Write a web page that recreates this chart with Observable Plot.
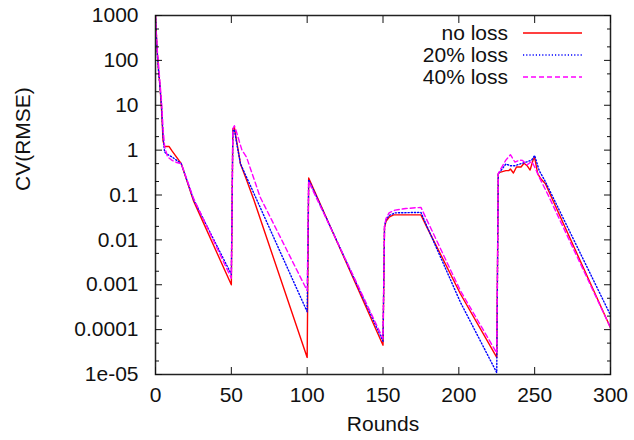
<!DOCTYPE html>
<html><head><meta charset="utf-8">
<script src="https://cdn.jsdelivr.net/npm/d3@7"></script>
<script src="https://cdn.jsdelivr.net/npm/@observablehq/plot@0.6"></script>
<style>body{margin:0;background:#fff}</style>
</head><body><div id="chart"></div>
<script>
const seriesNames = ["no loss", "20% loss", "40% loss"];
const seriesColors = ["#ff0000", "#0000ff", "#ff00ff"];
const seriesDash = [null, "1.2,2", "5,3"];

// [round, CV(RMSE)]
const noLoss = [[0,1000],[1,180],[2,60],[3,25],[4,8],[5,1.6],[6,1.2],[9,1.2],[11,0.95],[17,0.5],[25,0.075],[50,0.001],
  [51,3.0],[52,3.2],[53,2],[56,0.5],[60,0.22],[65,0.075],[100,2.4e-5],
  [101,0.24],[150,4.5e-5],
  [151,0.019],[152,0.026],[154,0.032],[157,0.036],[175,0.036],[179,0.019],[201,0.00063],[225,2.4e-5],
  [226,0.3],[227,0.32],[231,0.35],[233,0.35],[234,0.38],[236,0.31],[238,0.42],[241,0.42],[243,0.51],[245,0.45],[247,0.36],[249,0.61],[250,0.68],
  [252,0.3],[254,0.23],[257,0.18],[300,1.1e-4]];
const loss20 = [[0,1000],[1,170],[2,60],[3,25],[4,9],[5,2],[6,0.9],[8,0.8],[11,0.7],[17,0.5],[25,0.08],[50,0.0017],
  [51,2.6],[52,2.9],[53,1.8],[56,0.5],[60,0.25],[63,0.15],[100,0.00025],
  [101,0.22],[150,5.5e-5],
  [151,0.02],[152,0.028],[154,0.035],[158,0.04],[175,0.041],[179,0.02],[201,0.00041],[225,1.1e-5],
  [226,0.3],[228,0.36],[231,0.49],[234,0.45],[237,0.45],[241,0.5],[245,0.55],[248,0.6],[250,0.76],
  [253,0.35],[257,0.2],[300,2.1e-4]];
const loss40 = [[0,1000],[1,200],[2,80],[3,30],[4,12],[5,3],[6,1.2],[8,0.7],[11,0.59],[14,0.53],[17,0.5],[25,0.085],[50,0.0014],
  [51,3.0],[52,3.5],[53,2.8],[57,1.0],[60,0.7],[69,0.09],[100,0.00074],
  [101,0.2],[150,6.3e-5],
  [151,0.02],[152,0.03],[154,0.04],[158,0.046],[165,0.05],[175,0.053],[201,0.00074],[225,3e-5],
  [226,0.3],[228,0.4],[231,0.6],[234,0.79],[237,0.54],[240,0.6],[242,0.59],[245,0.47],[248,0.56],[250,0.42],
  [253,0.25],[259,0.098],[300,1.1e-4]];

const xTicks = [0, 50, 100, 150, 200, 250, 300];
const yTicks = [1e-5, 1e-4, 1e-3, 1e-2, 1e-1, 1, 10, 100, 1000];
const yTickLabels = ["1e-05", "0.0001", "0.001", "0.01", "0.1", "1", "10", "100", "1000"];
const yMinorTicks = yTicks.slice(0, -1).flatMap(t => [2 * t, 5 * t]);

const allSeries = [noLoss, loss20, loss40];
const rows = allSeries.flatMap((s, i) => s.map(([round, value]) => ({series: seriesNames[i], round, value})));

const font = "'Liberation Sans', Arial, Helvetica, sans-serif";
const blank = () => "";

const chart = Plot.plot({
  width: 634, height: 440,
  marginLeft: 155, marginRight: 24, marginTop: 15, marginBottom: 66,
  style: {fontFamily: font, fontSize: "21px", background: "white", color: "#111"},
  x: {domain: [0, 300]},
  y: {type: "log", domain: [1e-5, 1000]},
  marks: [
    ...seriesNames.map((name, i) => Plot.line(rows.filter(d => d.series === name), {
      x: "round", y: "value", stroke: seriesColors[i], strokeWidth: 1.4,
      strokeDasharray: seriesDash[i], clip: true
    })),
    Plot.frame({stroke: "#222", strokeWidth: 1.5}),
    Plot.axisX({ticks: xTicks, tickSize: 0, tickPadding: 13, label: null, fontSize: 21}),
    Plot.axisX({ticks: xTicks, tickSize: -7, tickFormat: blank, label: null, anchor: "bottom"}),
    Plot.axisX({ticks: xTicks, tickSize: -7, tickFormat: blank, label: null, anchor: "top"}),
    Plot.axisY({ticks: yTicks, tickSize: 0, tickPadding: 17, label: null, fontSize: 21,
      tickFormat: d => yTickLabels[yTicks.findIndex(t => Math.abs(Math.log10(t) - Math.log10(d)) < 1e-6)]}),
    Plot.axisY({ticks: yTicks, tickSize: -7, tickFormat: blank, label: null, anchor: "left"}),
    Plot.axisY({ticks: yTicks, tickSize: -7, tickFormat: blank, label: null, anchor: "right"}),
    Plot.axisY({ticks: yMinorTicks, tickSize: -4, tickFormat: blank, label: null, anchor: "left"}),
    Plot.axisY({ticks: yMinorTicks, tickSize: -4, tickFormat: blank, label: null, anchor: "right"}),
    Plot.text(["Rounds"], {frameAnchor: "bottom", dy: 56, fontSize: 21, fill: "#111"}),
    Plot.text(["CV(RMSE)"], {frameAnchor: "left", dx: -132, dy: -4, rotate: -90, fontSize: 21, fill: "#111"})
  ]
});

document.getElementById("chart").appendChild(chart);

// legend (top-right, inside the frame, gnuplot style)
const svg = d3.select(chart);
const lg = svg.append("g").attr("font-family", font).attr("font-size", 21);
seriesNames.forEach((name, i) => {
  const y = 33 + i * 22;
  lg.append("text").attr("x", 508).attr("y", y).attr("dy", "0.35em")
    .attr("text-anchor", "end").attr("fill", "#111").text(name);
  lg.append("line").attr("x1", 523).attr("x2", 582).attr("y1", y).attr("y2", y)
    .attr("stroke", seriesColors[i]).attr("stroke-width", 1.4)
    .attr("stroke-dasharray", seriesDash[i]);
});
</script>
</body></html>
